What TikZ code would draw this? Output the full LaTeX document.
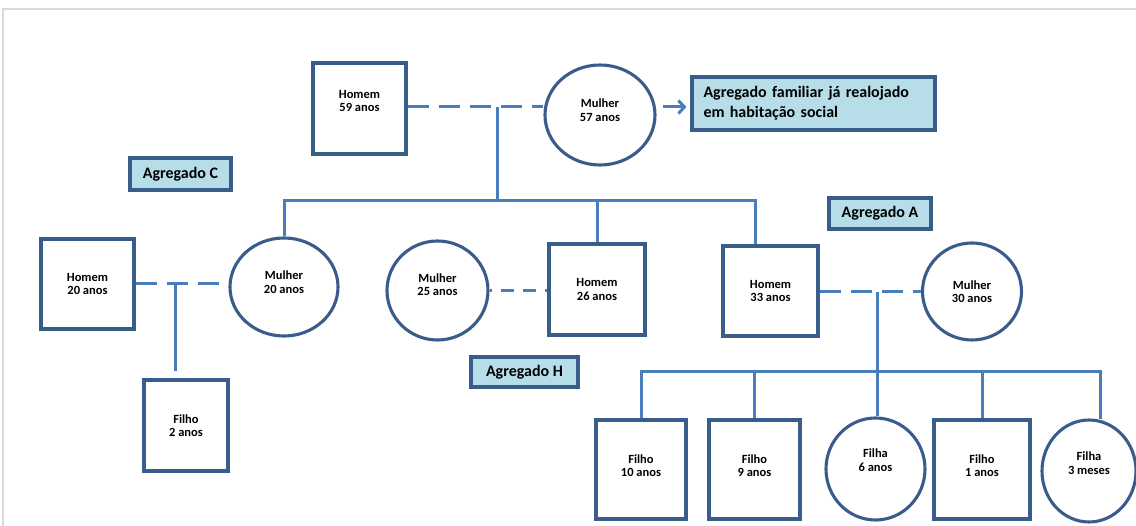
\documentclass[tikz,border=0pt]{standalone}
\usepackage{fontspec}
\setmainfont{Carlito}
\usetikzlibrary{arrows.meta,shapes.geometric}
\definecolor{edgeblue}{HTML}{385D8A}
\definecolor{connblue}{HTML}{4A7EBB}
\definecolor{agfill}{HTML}{B7DEE8}
\definecolor{framegray}{HTML}{D9D9D9}
\newcommand\liftlines[3]{\raisebox{#1}[0pt][0pt]{\begin{tabular}{@{}c@{}}#2\\#3\end{tabular}}\vphantom{\begin{tabular}{@{}c@{}}#2\\#3\end{tabular}}}
\begin{document}
\begin{tikzpicture}[x=1pt,y=-1pt,
  person/.style={draw=edgeblue,line width=3.1pt,fill=white,
    font=\bfseries\fontsize{12.5}{13.5}\selectfont,align=center,inner sep=0pt},
  sq/.style={person,rectangle},
  circ/.style={person,ellipse},
  agbox/.style={draw=edgeblue,line width=3.1pt,fill=agfill,rectangle,
    font=\bfseries\fontsize{16}{20}\selectfont,inner sep=0pt},
  conn/.style={draw=connblue,line width=3pt},
  partner/.style={conn,dash pattern=on 21pt off 10pt},
  arr/.style={conn,-{Straight Barb[length=6pt,width=13pt]}}]
\useasboundingbox (0,0) rectangle (1136,526);
\draw[framegray,line width=1.5pt] (3,526) -- (3,9) -- (1136,9);

% generation 1
\node[sq,minimum width=93pt,minimum height=91pt] (h59) at (359.5,108.5) {\liftlines{6pt}{Homem}{59 anos}};
\node[circ,minimum width=110pt,minimum height=100pt] (m57) at (600,115) {\liftlines{3pt}{Mulher}{57 anos}};
\node[agbox,minimum width=243pt,minimum height=53pt,text width=220pt,align=left] (big) at (813.5,103.5) {Agregado familiar já realojado\\em habitação social};

% labels
\node[agbox,minimum width=101pt,minimum height=32pt] (agc) at (180.5,174) {Agregado C};
\node[agbox,minimum width=102pt,minimum height=31pt] (aga) at (880,213.5) {Agregado A};
\node[agbox,minimum width=107pt,minimum height=30pt] (agh) at (524.5,372) {Agregado H};

% generation 2
\node[sq,minimum width=93pt,minimum height=90pt] (h20) at (87.5,284) {Homem\\20 anos};
\node[circ,minimum width=108pt,minimum height=98pt] (m20) at (284,287) {\liftlines{3pt}{Mulher}{20 anos}};
\node[sq,minimum width=84pt,minimum height=91pt] (f2) at (186,425.5) {Filho\\2 anos};
\node[circ,minimum width=101pt,minimum height=99pt] (m25) at (437.5,290.5) {\liftlines{4pt}{Mulher}{25 anos}};
\node[sq,minimum width=96pt,minimum height=91pt] (h26) at (597,289.5) {Homem\\26 anos};
\node[sq,minimum width=95pt,minimum height=90pt] (h33) at (770.5,291) {Homem\\33 anos};
\node[circ,minimum width=99pt,minimum height=97pt] (m30) at (972,291.5) {Mulher\\30 anos};

% generation 3
\node[sq,minimum width=90pt,minimum height=99pt] (f10) at (641,469.5) {\liftlines{2pt}{Filho}{10 anos}};
\node[sq,minimum width=91pt,minimum height=99pt] (f9) at (754.5,469.5) {\liftlines{2pt}{Filho}{9 anos}};
\node[circ,minimum width=99pt,minimum height=102pt] (fa6) at (875.5,469) {\liftlines{7pt}{Filha}{6 anos}};
\node[sq,minimum width=96pt,minimum height=99pt] (f1) at (982,469.5) {\liftlines{2pt}{Filho}{1 anos}};
\node[circ,minimum width=94pt,minimum height=102pt] (fa3) at (1089,471) {\liftlines{6pt}{Filha}{3 meses}};

% coordinates
\coordinate (j1) at (497,107);
\coordinate (b1) at (497,201);
\coordinate (barR) at (755,201);
\coordinate (j2) at (175,284);
\coordinate (j3) at (877,292);
\coordinate (bar2L) at (641,372);
\coordinate (bar2R) at (1100,372);

% connectors top family
\draw[partner] (h59.east |- j1) -- (m57.west |- j1);
\draw[conn] (j1) -- (b1);
\draw[conn] (m20.north) |- (barR) -- (barR |- h33.north);
\draw[conn] (h26.north) -- (h26.north |- barR);
\draw[arr] ([xshift=6pt]m57.east |- j1) -- ([xshift=-4pt]big.west |- j1);

% Agregado C
\draw[partner] (h20.east |- j2) -- (m20.west |- j2);
\draw[conn] (j2) -- ([yshift=7pt]f2.north -| j2);

% Agregado H
\draw[conn,dash pattern=on 13pt off 9pt,dash phase=-11pt] (m25.east) -- (h26.west |- m25.east);

% Agregado A
\draw[partner] (h33.east |- j3) -- (m30.west |- j3);
\draw[conn] (j3) -- (fa6.north -| j3);
\draw[conn] (f10.north) -- (bar2L) -- (bar2R) -- ([yshift=-1pt]bar2R |- fa3.north);
\draw[conn] (f9.north) -- (f9.north |- bar2L);
\draw[conn] (f1.north) -- (f1.north |- bar2L);
\end{tikzpicture}
\end{document}
